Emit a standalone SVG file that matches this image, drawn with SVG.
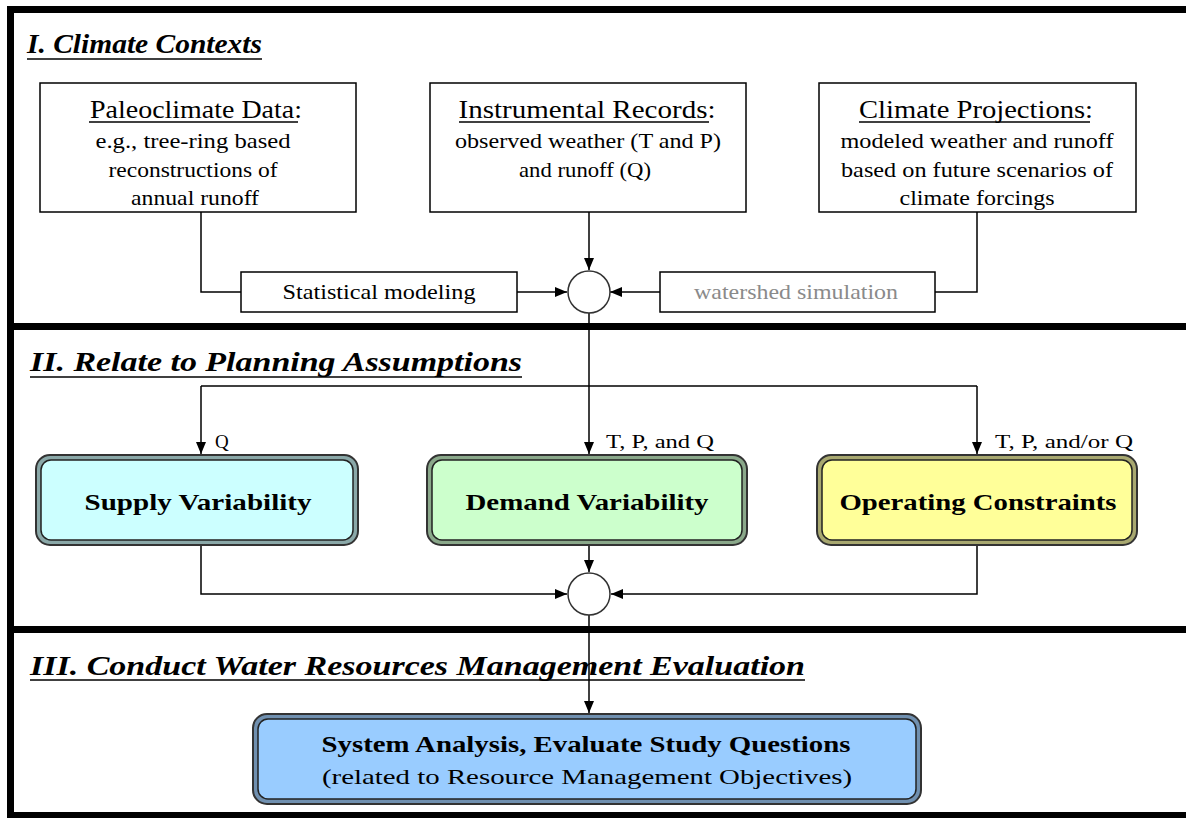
<svg xmlns="http://www.w3.org/2000/svg" width="1186" height="818" viewBox="0 0 1186 818">
<style>
.frame{fill:#000}
.box{fill:#fff;stroke:#000;stroke-width:1.5}
.t{font-family:"Liberation Serif","Times New Roman",serif;fill:#000}
.head{font-size:25px;text-anchor:middle}
.body{font-size:21px;text-anchor:middle}
.lbl{font-size:19px}
.sec{font-size:28px;font-weight:bold;font-style:italic}
.bold{font-size:24px;font-weight:bold;text-anchor:middle}
.ul{stroke:#000;stroke-width:1.5}
.ln{fill:none;stroke:#000;stroke-width:1.5}
.circ{fill:#fff;stroke:#333;stroke-width:1.5}
.rout{stroke:#333;stroke-width:2}
.rin{stroke:#222;stroke-width:1.5}
</style>
<defs>
<marker id="arr" markerUnits="userSpaceOnUse" markerWidth="12" markerHeight="10" refX="12" refY="5" orient="auto">
<path d="M0,0 L12,5 L0,10 Z" fill="#000"/>
</marker>
</defs>
<rect width="1186" height="818" fill="#fff"/>

<g id="frame">
<rect class="frame" x="7" y="6" width="1179" height="7"/>
<rect class="frame" x="7" y="6" width="7" height="812"/>
<rect class="frame" x="7" y="323" width="1179" height="7"/>
<rect class="frame" x="7" y="626" width="1179" height="7"/>
<rect class="frame" x="7" y="812" width="1179" height="6"/>
</g>

<g id="section1-title">
<text class="t sec" x="27" y="53" textLength="235" lengthAdjust="spacingAndGlyphs">I. Climate Contexts</text>
<line class="ul" x1="27" y1="59" x2="262" y2="59"/>
</g>
<g id="section2-title">
<text class="t sec" x="30" y="371" textLength="492" lengthAdjust="spacingAndGlyphs">II. Relate to Planning Assumptions</text>
<line class="ul" x1="30" y1="377" x2="522" y2="377"/>
</g>
<g id="section3-title">
<text class="t sec" x="30" y="675" textLength="775" lengthAdjust="spacingAndGlyphs">III. Conduct Water Resources Management Evaluation</text>
<line class="ul" x1="30" y1="680" x2="805" y2="680"/>
</g>

<g id="connectors">
<path class="ln" d="M201,212 V292 H241"/>
<path class="ln" d="M517,292 H567" marker-end="url(#arr)"/>
<path class="ln" d="M589,212 V270" marker-end="url(#arr)"/>
<path class="ln" d="M977,212 V292 H935"/>
<path class="ln" d="M660,292 H610" marker-end="url(#arr)"/>
<path class="ln" d="M589,313 V454" marker-end="url(#arr)"/>
<path class="ln" d="M201,386 H977"/>
<path class="ln" d="M201,386 V454" marker-end="url(#arr)"/>
<path class="ln" d="M977,386 V454" marker-end="url(#arr)"/>
<path class="ln" d="M201,546 V594 H567" marker-end="url(#arr)"/>
<path class="ln" d="M589,546 V572" marker-end="url(#arr)"/>
<path class="ln" d="M977,546 V594 H611" marker-end="url(#arr)"/>
<path class="ln" d="M589,615 V713" marker-end="url(#arr)"/>
<text class="t lbl" x="215" y="448">Q</text>
<text class="t lbl" x="606" y="448" textLength="108" lengthAdjust="spacingAndGlyphs">T, P,  and Q</text>
<text class="t lbl" x="995" y="448" textLength="138" lengthAdjust="spacingAndGlyphs">T, P,  and/or Q</text>
</g>

<g id="paleoclimate">
<rect class="box" x="40" y="83" width="316" height="129"/>
<text class="t head" x="196" y="118" textLength="212" lengthAdjust="spacingAndGlyphs">Paleoclimate Data:</text>
<line class="ul" x1="89" y1="122" x2="298" y2="122" stroke-width="1"/>
<text class="t body" x="193" y="148" textLength="195" lengthAdjust="spacingAndGlyphs">e.g., tree-ring based</text>
<text class="t body" x="193" y="177" textLength="169" lengthAdjust="spacingAndGlyphs">reconstructions of</text>
<text class="t body" x="195" y="205" textLength="128" lengthAdjust="spacingAndGlyphs">annual runoff</text>
</g>

<g id="instrumental">
<rect class="box" x="430" y="83" width="316" height="129"/>
<text class="t head" x="587" y="118" textLength="257" lengthAdjust="spacingAndGlyphs">Instrumental Records:</text>
<line class="ul" x1="459" y1="122" x2="709" y2="122" stroke-width="1"/>
<text class="t body" x="588" y="148" textLength="266" lengthAdjust="spacingAndGlyphs">observed weather (T and P)</text>
<text class="t body" x="585" y="177" textLength="132" lengthAdjust="spacingAndGlyphs">and runoff (Q)</text>
</g>

<g id="projections">
<rect class="box" x="819" y="83" width="317" height="129"/>
<text class="t head" x="976" y="118" textLength="234" lengthAdjust="spacingAndGlyphs">Climate Projections:</text>
<line class="ul" x1="859" y1="122" x2="1090" y2="122" stroke-width="1"/>
<text class="t body" x="977" y="148" textLength="273" lengthAdjust="spacingAndGlyphs">modeled weather and runoff</text>
<text class="t body" x="977" y="177" textLength="272" lengthAdjust="spacingAndGlyphs">based on future scenarios of</text>
<text class="t body" x="977" y="205" textLength="155" lengthAdjust="spacingAndGlyphs">climate forcings</text>
</g>

<g id="statistical">
<rect class="box" x="241" y="272" width="276" height="40"/>
<text class="t body" x="379" y="299" textLength="193" lengthAdjust="spacingAndGlyphs">Statistical modeling</text>
</g>

<g id="watershed">
<rect class="box" x="660" y="272" width="275" height="40"/>
<text class="t body" x="796" y="299" style="fill:#8a8a8a" textLength="204" lengthAdjust="spacingAndGlyphs">watershed simulation</text>
</g>

<g id="junction1">
<circle class="circ" cx="589" cy="292" r="21"/>
</g>

<g id="supply">
<rect class="rout" x="36" y="455" width="322" height="90" rx="14" fill="#8aa8a8"/>
<rect class="rin" x="41" y="460" width="312" height="80" rx="10" fill="#ccffff"/>
<text class="t bold" x="198" y="510" textLength="227" lengthAdjust="spacingAndGlyphs">Supply Variability</text>
</g>

<g id="demand">
<rect class="rout" x="427" y="455" width="320" height="90" rx="14" fill="#8aa88a"/>
<rect class="rin" x="432" y="460" width="310" height="80" rx="10" fill="#ccffcc"/>
<text class="t bold" x="587" y="510" textLength="243" lengthAdjust="spacingAndGlyphs">Demand Variability</text>
</g>

<g id="operating">
<rect class="rout" x="817" y="455" width="320" height="90" rx="14" fill="#a8a870"/>
<rect class="rin" x="822" y="460" width="310" height="80" rx="10" fill="#ffff99"/>
<text class="t bold" x="978" y="510" textLength="277" lengthAdjust="spacingAndGlyphs">Operating Constraints</text>
</g>

<g id="junction2">
<circle class="circ" cx="589" cy="594" r="21"/>
</g>

<g id="system">
<rect class="rout" x="253" y="714" width="668" height="90" rx="14" fill="#7090b0"/>
<rect class="rin" x="258" y="719" width="658" height="80" rx="10" fill="#99ccff"/>
<text class="t bold" x="586" y="752" textLength="529" lengthAdjust="spacingAndGlyphs">System Analysis, Evaluate Study Questions</text>
<text class="t" x="587" y="784" font-size="22" text-anchor="middle" textLength="530" lengthAdjust="spacingAndGlyphs">(related to Resource Management Objectives)</text>
</g>
</svg>
